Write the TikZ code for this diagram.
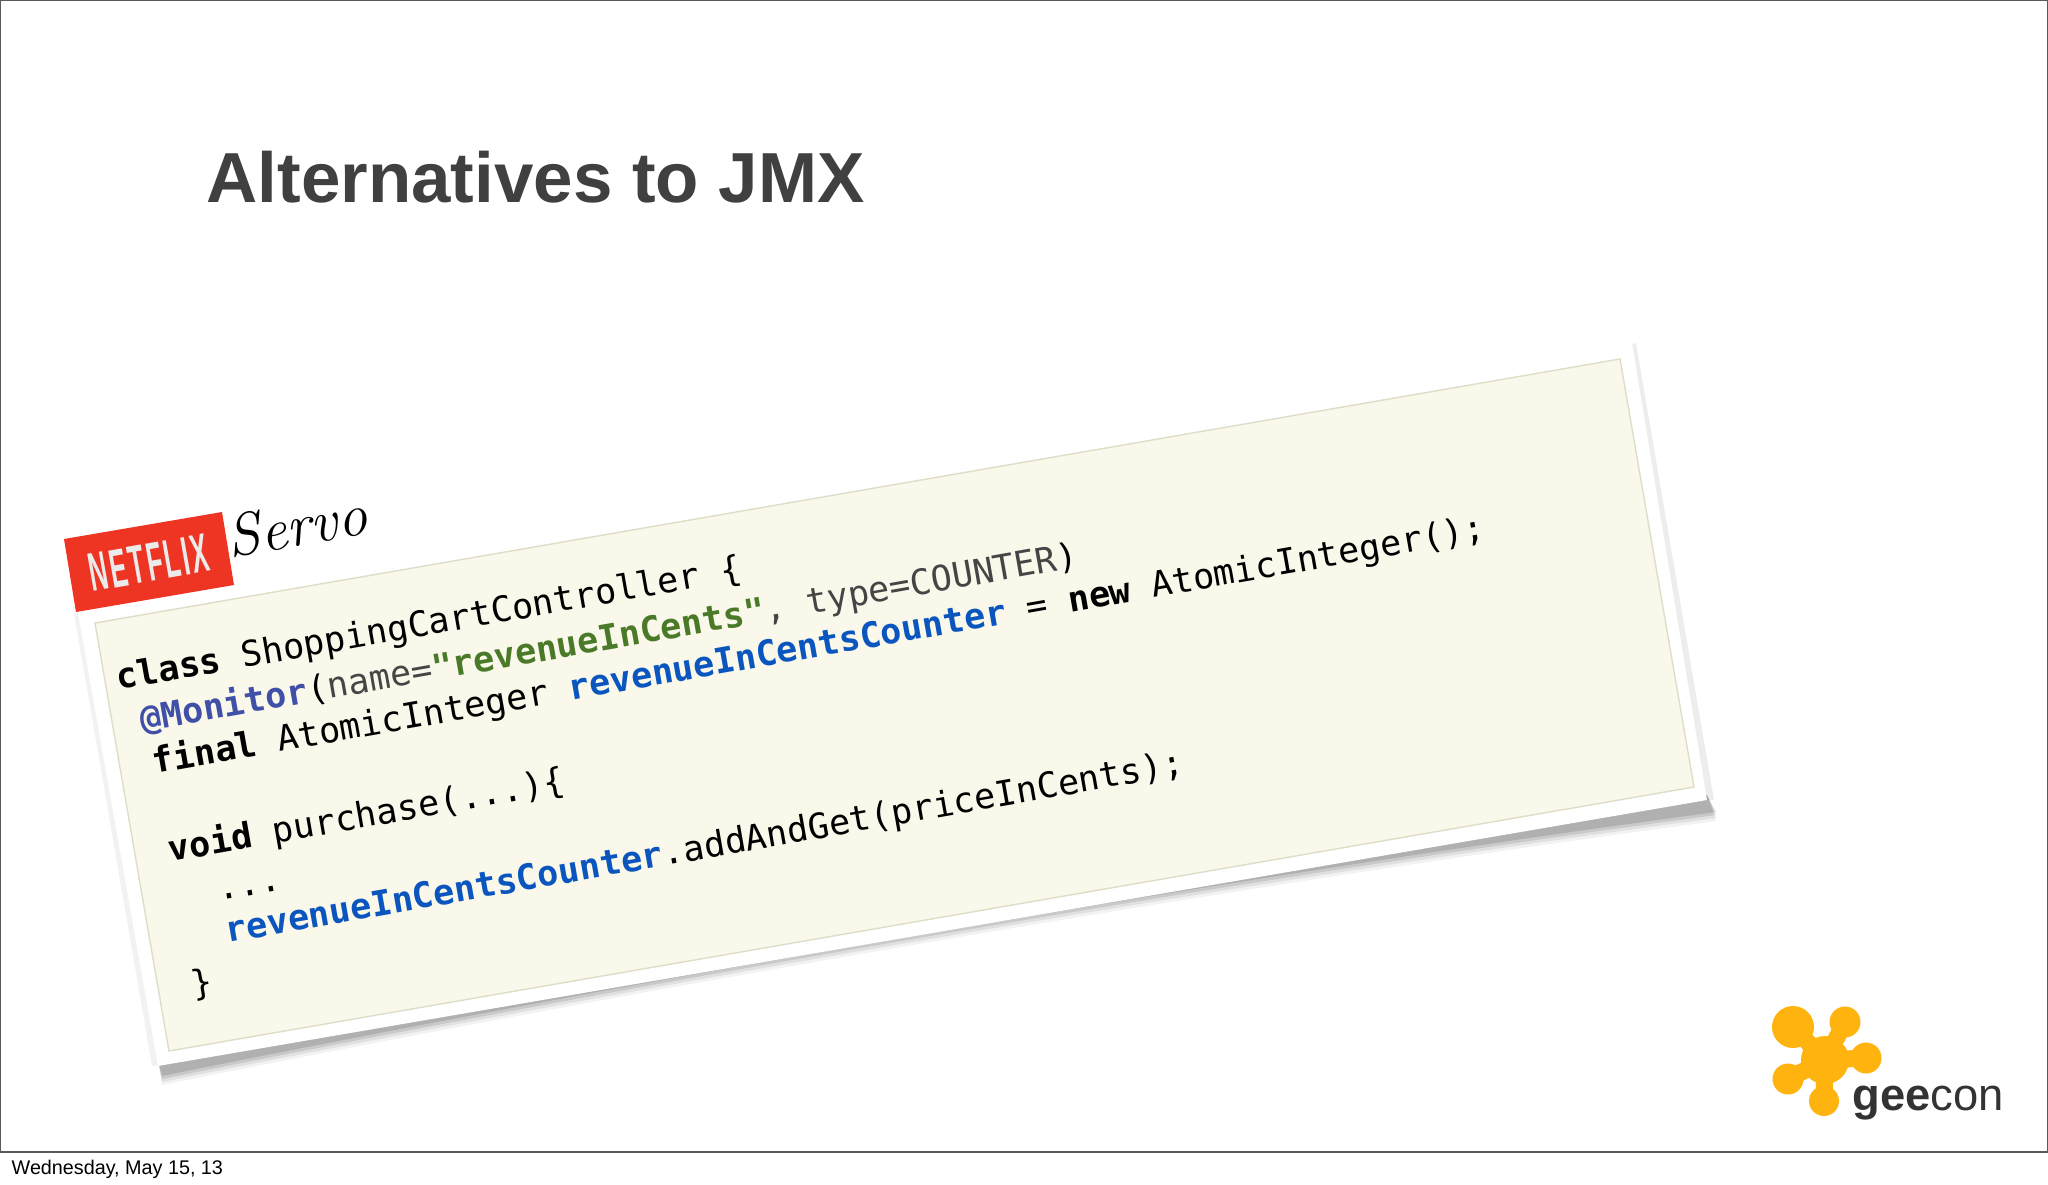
\documentclass[tikz,border=0pt]{standalone}
\usepackage{fontspec}
\usepackage{xcolor}
\usetikzlibrary{positioning,calc}
\setmainfont{Liberation Sans}
\newfontfamily\codefont{DejaVu Sans Mono}
\newfontfamily\badgefont[LetterSpace=9]{Liberation Sans}
\definecolor{slideline}{HTML}{5A5A5A}
\definecolor{titlegray}{HTML}{404040}
\definecolor{paperfill}{HTML}{F9F8EA}
\definecolor{paperedge}{HTML}{DEDEC8}
\definecolor{netred}{HTML}{EE3524}
\definecolor{geeyellow}{HTML}{FFB30F}
\definecolor{kwblue}{HTML}{0B55BF}
\definecolor{annblue}{HTML}{4050A8}
\definecolor{strgreen}{HTML}{4A7A28}
\definecolor{plaingray}{HTML}{454545}
\newcommand{\kw}[1]{\textbf{#1}}
\newcommand{\fld}[1]{\textcolor{kwblue}{\textbf{#1}}}
\tikzset{
  codeline/.style={anchor=base west,inner sep=0pt,rotate=10,
    font=\codefont\fontsize{9.98}{12}\selectfont,text=black},
  blob/.style={fill=geeyellow,draw=none},
  blobarm/.style={draw=geeyellow,line width=0.17cm,line cap=round}
}
\begin{document}
\begin{tikzpicture}[x=0.01cm,y=-0.01cm]
  \useasboundingbox(0,0)rectangle(2048,1184);
  \fill[white](0,0)rectangle(2048,1184);
  \draw[slideline,line width=0.5pt](0.5,0.5)rectangle(2047.5,1152);

  \node[anchor=base west,inner sep=0pt,text=titlegray,
    font=\bfseries\fontsize{20.16}{24}\selectfont](title)at(206,202){Alternatives to JMX};
  \node[anchor=base west,inner sep=0pt,text=black,
    font=\fontsize{5.62}{7}\selectfont](footer)at(11,1174){Wednesday, May 15, 13};

  % shadow under the card
  \foreach \s/\o in {0/0.05,3/0.07,6/0.10,9/0.12}{
    \fill[black,opacity=\o](158,1060)--(1707,795)--(1716,{821-\s})
      ..controls(1200,{890-\s})and(600,{996-\s})..(162,{1085-\s})--cycle;
  }
  \fill[black,opacity=0.07](1628,345)--(1636,343)--(1714,800)--(1704,800)--cycle;
  \fill[black,opacity=0.05](74,613)--(80,613)--(160,1066)--(152,1066)--cycle;

  % the card
  \fill[white](78,613)--(1632,343)--(1707,800)--(158,1066)--cycle;
  \filldraw[fill=paperfill,draw=paperedge,line width=0.4pt]
    (95,623)--(1620,359)--(1694,787)--(169,1051)--cycle;

  \node[codeline](line1)at(118,690){\kw{class} ShoppingCartController \{};
  \node[codeline](line2)at(142,732){\textcolor{annblue}{\kw{@Monitor}}\textcolor{plaingray}{\textcolor{black}{(}name=}\textcolor{strgreen}{\kw{"revenueInCents"}}\textcolor{plaingray}{, type=COUNTER})};
  \node[codeline](line3)at(154,774){\kw{final} AtomicInteger \fld{revenueInCentsCounter} = \kw{new} AtomicInteger();};
  \node[codeline](line4)at(170,862){\kw{void} purchase(...)\{};
  \node[codeline](line5)at(219,901){...};
  \node[codeline](line6)at(227,943){\fld{revenueInCentsCounter}.addAndGet(priceInCents);};
  \node[codeline](line7)at(193,997){\}};

  % netflix badge
  \fill[netred](64,539)--(222,512)--(234,585)--(76,612)--cycle;
  \node[rotate=10,inner sep=0pt,text=white!92!black,xscale=0.47,
    font=\badgefont\bfseries\fontsize{15.5}{18}\selectfont](netflix)at(149,563){NETFLIX};
  \node[anchor=base west,rotate=10,inner sep=0pt,text=black,
    font=\fontsize{17}{20}\selectfont](servo)at(230,558){\fontspec{Latin Modern Roman}\itshape Servo};

  % geecon logo
  \draw[blobarm](1825,1060)--(1793,1027);
  \draw[blobarm](1825,1060)--(1845,1022);
  \draw[blobarm](1825,1060)--(1866,1058);
  \draw[blobarm](1825,1060)--(1788,1079);
  \draw[blobarm](1825,1060)--(1824,1101);
  \fill[blob](1825,1060)circle(24);
  \fill[blob](1793,1027)circle(21);
  \fill[blob](1845,1022)circle(15.5);
  \fill[blob](1866,1058)circle(15.5);
  \fill[blob](1788,1079)circle(15.5);
  \fill[blob](1824,1101)circle(15);
  \node[anchor=base west,inner sep=0pt,text=black!80,
    font=\fontsize{12.9}{15}\selectfont](geecon)at(1852,1110){\textbf{gee}con};
\end{tikzpicture}
\end{document}
